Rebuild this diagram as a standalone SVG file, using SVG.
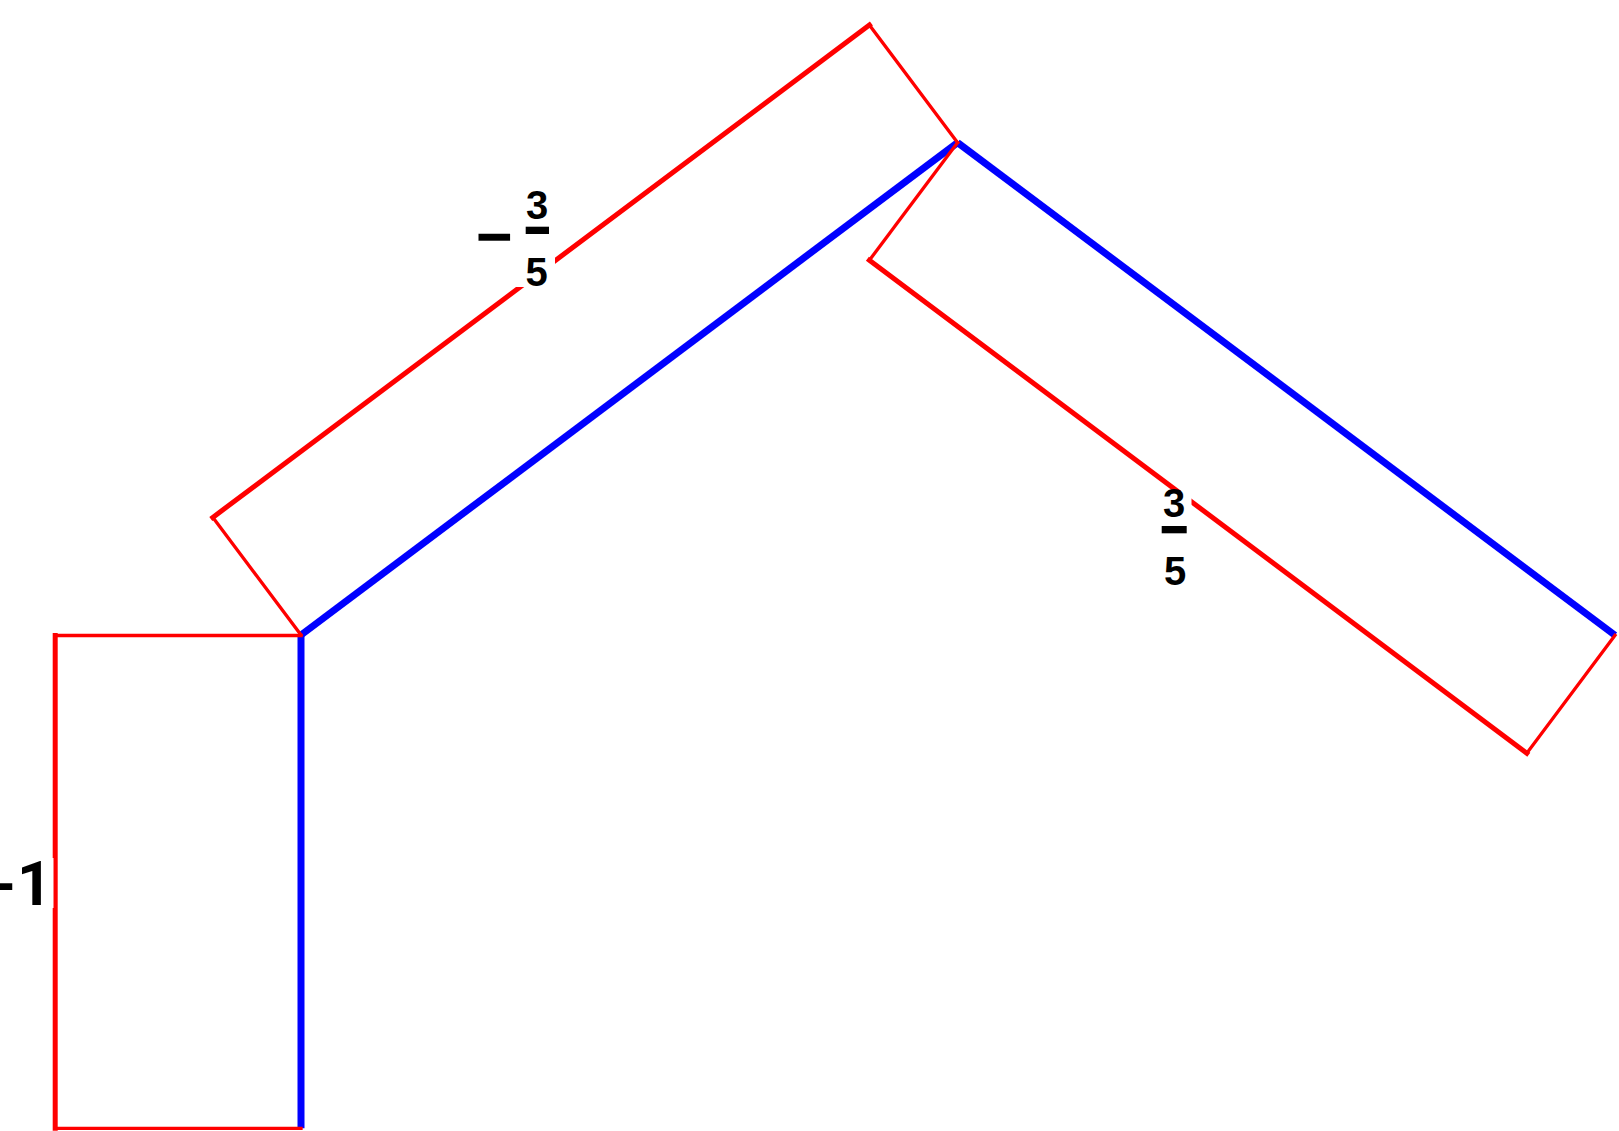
<svg xmlns="http://www.w3.org/2000/svg" width="1619" height="1131" viewBox="0 0 1619 1131">
<style>
.blue{stroke:#0000ff;stroke-width:7;fill:none;stroke-linecap:butt}
.rt{stroke:#ff0000;stroke-width:5;fill:none;stroke-linecap:square}
.rn{stroke:#ff0000;stroke-width:3.3;fill:none;stroke-linecap:square}
.bg{fill:#ffffff}
.bar{fill:#000000}
</style>
<rect width="1619" height="1131" fill="#ffffff"/>
<g id="connectors">
<g id="blue-path">
<line class="blue" x1="301" y1="635" x2="301" y2="1128.3"/>
<line class="blue" x1="301" y1="635" x2="957.6" y2="142.6"/>
<line class="blue" x1="957.6" y1="142.6" x2="1615" y2="635.3"/>
</g>
<g id="red-offsets">
<line class="rn" x1="55.2" y1="635.5" x2="301" y2="635.5"/>
<line class="rt" x1="55.2" y1="635.5" x2="55.2" y2="1128.3"/>
<line class="rn" x1="55.2" y1="1128.3" x2="301" y2="1128.3"/>
<line class="rn" x1="301" y1="635" x2="212.8" y2="517.4"/>
<line class="rt" x1="212.8" y1="517.4" x2="869.4" y2="25"/>
<line class="rn" x1="869.4" y1="25" x2="957.6" y2="142.6"/>
<line class="rn" x1="957.6" y1="142.6" x2="869.4" y2="260.2"/>
<line class="rt" x1="869.4" y1="260.2" x2="1526.8" y2="753.2"/>
<line class="rn" x1="1526.8" y1="753.2" x2="1615" y2="635.3"/>
</g>
</g>
<g id="label-minus-one" font-family="Roboto, Liberation Sans, Arial, sans-serif" font-weight="bold" fill="#000000">
<rect class="bg" x="0" y="858" width="53.5" height="50"/>
<text font-size="61" y="905"><tspan x="-8">-</tspan><tspan x="17">1</tspan></text>
</g>
<g id="label-minus-three-fifths" font-family="Liberation Sans, Arial, Helvetica, sans-serif" font-weight="bold" fill="#000000">
<rect class="bg" x="474" y="188" width="81" height="99"/>
<text font-size="63" x="476" y="258">−</text>
<text font-size="40" text-anchor="middle" x="537" y="219.3">3</text>
<rect class="bar" x="525.7" y="226.7" width="23.3" height="7.3"/>
<text font-size="40" text-anchor="middle" x="536.5" y="285.5">5</text>
</g>
<g id="label-three-fifths" font-family="Liberation Sans, Arial, Helvetica, sans-serif" font-weight="bold" fill="#000000">
<rect class="bg" x="1158" y="491" width="33.5" height="99"/>
<text font-size="40" text-anchor="middle" x="1174" y="516.7">3</text>
<rect class="bar" x="1161.7" y="526" width="25" height="7.3"/>
<text font-size="40" text-anchor="middle" x="1175" y="585">5</text>
</g>
</svg>
